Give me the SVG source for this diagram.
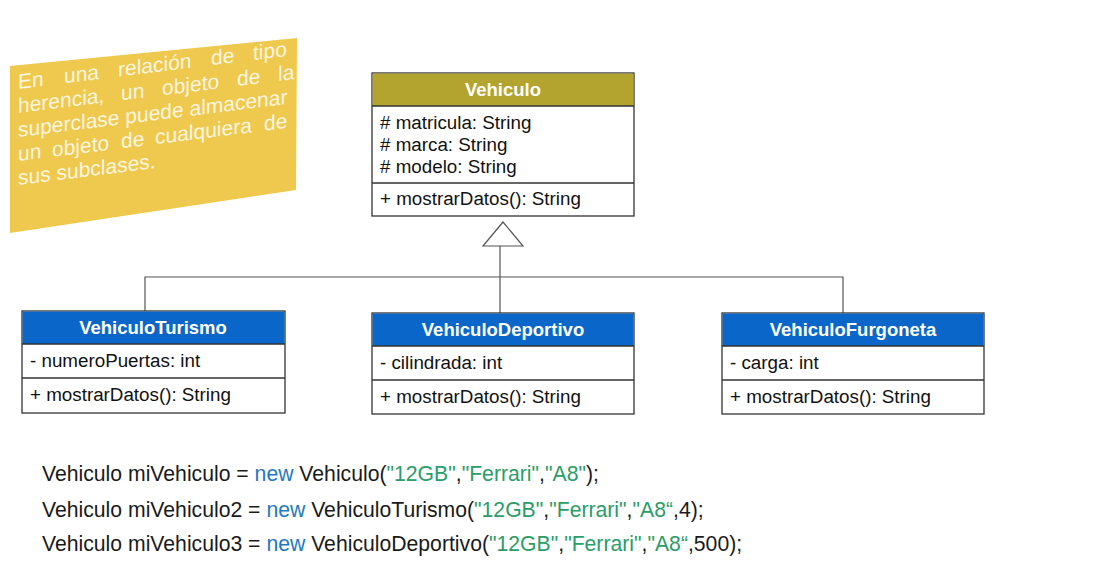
<svg xmlns="http://www.w3.org/2000/svg" width="1113" height="564" viewBox="0 0 1113 564">
<style>
text{font-family:"Liberation Sans",Arial,sans-serif;}
.box{fill:#ffffff;stroke:#333333;stroke-width:1.3;}
.sep{stroke:#333333;stroke-width:1.3;}
.hdrO{fill:#b3a32f;}
.hdrB{fill:#0a66c8;}
.ttl{font-size:18.5px;font-weight:bold;fill:#ffffff;text-anchor:middle;}
.mem{font-size:18.8px;fill:#111111;}
.code{font-size:21.2px;fill:#1a1a1a;}
.kw{fill:#1f78c1;}
.str{fill:#2a9d68;}
.note{font-size:21px;fill:#fcf5df;}
.conn{stroke:#555555;stroke-width:1.2;fill:none;}
</style>
<rect width="1113" height="564" fill="#ffffff"/>
<g id="note">
<polygon points="10,66 297,38 296,190 10,233" fill="#efc94e"/>
<g transform="translate(18 0) skewY(-7) translate(-18 0)">
<text class="note" y="89"><tspan x="18">En</tspan><tspan x="64">una</tspan><tspan x="118">relación</tspan><tspan x="211">de</tspan><tspan x="253">tipo</tspan></text>
<text class="note" y="113"><tspan x="18">herencia,</tspan><tspan x="121">un</tspan><tspan x="162">objeto</tspan><tspan x="237">de</tspan><tspan x="278">la</tspan></text>
<text class="note" x="18" y="137">superclase puede almacenar</text>
<text class="note" y="161"><tspan x="18">un</tspan><tspan x="52">objeto</tspan><tspan x="121">de</tspan><tspan x="155">cualquiera</tspan><tspan x="264">de</tspan></text>
<text class="note" x="18" y="185">sus subclases.</text>
</g>
</g>
<g id="connectors">
<polyline class="conn" points="145,312 145,277 843,277 843,313"/>
<line class="conn" x1="500" y1="246" x2="500" y2="313"/>
<polygon points="503,222 483,246 523,246" fill="#ffffff" stroke="#555555" stroke-width="1.2"/>
</g>
<g id="Vehiculo">
<rect class="box" x="372" y="73" width="262" height="143"/>
<rect class="hdrO" x="372.6" y="73.6" width="260.8" height="32.4"/>
<line class="sep" x1="372" y1="106" x2="634" y2="106"/>
<line class="sep" x1="372" y1="183" x2="634" y2="183"/>
<text class="ttl" x="503" y="96">Vehiculo</text>
<text class="mem" x="380" y="129">#  matricula: String</text>
<text class="mem" x="380" y="151">#  marca: String</text>
<text class="mem" x="380" y="173">#  modelo: String</text>
<text class="mem" x="380" y="205">+ mostrarDatos(): String</text>
</g>
<g id="VehiculoTurismo">
<rect class="box" x="22" y="311" width="263" height="102"/>
<rect class="hdrB" x="22.6" y="311.6" width="261.8" height="32.4"/>
<line class="sep" x1="22" y1="344" x2="285" y2="344"/>
<line class="sep" x1="22" y1="378" x2="285" y2="378"/>
<text class="ttl" x="153" y="334">VehiculoTurismo</text>
<text class="mem" x="30" y="367">- numeroPuertas: int</text>
<text class="mem" x="30" y="401">+ mostrarDatos(): String</text>
</g>
<g id="VehiculoDeportivo">
<rect class="box" x="372" y="313" width="262" height="101"/>
<rect class="hdrB" x="372.6" y="313.6" width="260.8" height="32.4"/>
<line class="sep" x1="372" y1="346" x2="634" y2="346"/>
<line class="sep" x1="372" y1="380" x2="634" y2="380"/>
<text class="ttl" x="503" y="336">VehiculoDeportivo</text>
<text class="mem" x="380" y="369">- cilindrada: int</text>
<text class="mem" x="380" y="403">+ mostrarDatos(): String</text>
</g>
<g id="VehiculoFurgoneta">
<rect class="box" x="722" y="313" width="262" height="101"/>
<rect class="hdrB" x="722.6" y="313.6" width="260.8" height="32.4"/>
<line class="sep" x1="722" y1="346" x2="984" y2="346"/>
<line class="sep" x1="722" y1="380" x2="984" y2="380"/>
<text class="ttl" x="853" y="336">VehiculoFurgoneta</text>
<text class="mem" x="730" y="369">- carga: int</text>
<text class="mem" x="730" y="403">+ mostrarDatos(): String</text>
</g>
<g id="code">
<text class="code" x="42" y="481">Vehiculo miVehiculo = <tspan class="kw">new</tspan> Vehiculo(<tspan class="str">"12GB"</tspan>,<tspan class="str">"Ferrari"</tspan>,<tspan class="str">"A8"</tspan>);</text>
<text class="code" x="42" y="517">Vehiculo miVehiculo2 = <tspan class="kw">new</tspan> VehiculoTurismo(<tspan class="str">"12GB"</tspan>,<tspan class="str">"Ferrari"</tspan>,<tspan class="str">"A8“</tspan>,4);</text>
<text class="code" x="42" y="551">Vehiculo miVehiculo3 = <tspan class="kw">new</tspan> VehiculoDeportivo(<tspan class="str">"12GB"</tspan>,<tspan class="str">"Ferrari"</tspan>,<tspan class="str">"A8“</tspan>,500);</text>
</g>
</svg>
